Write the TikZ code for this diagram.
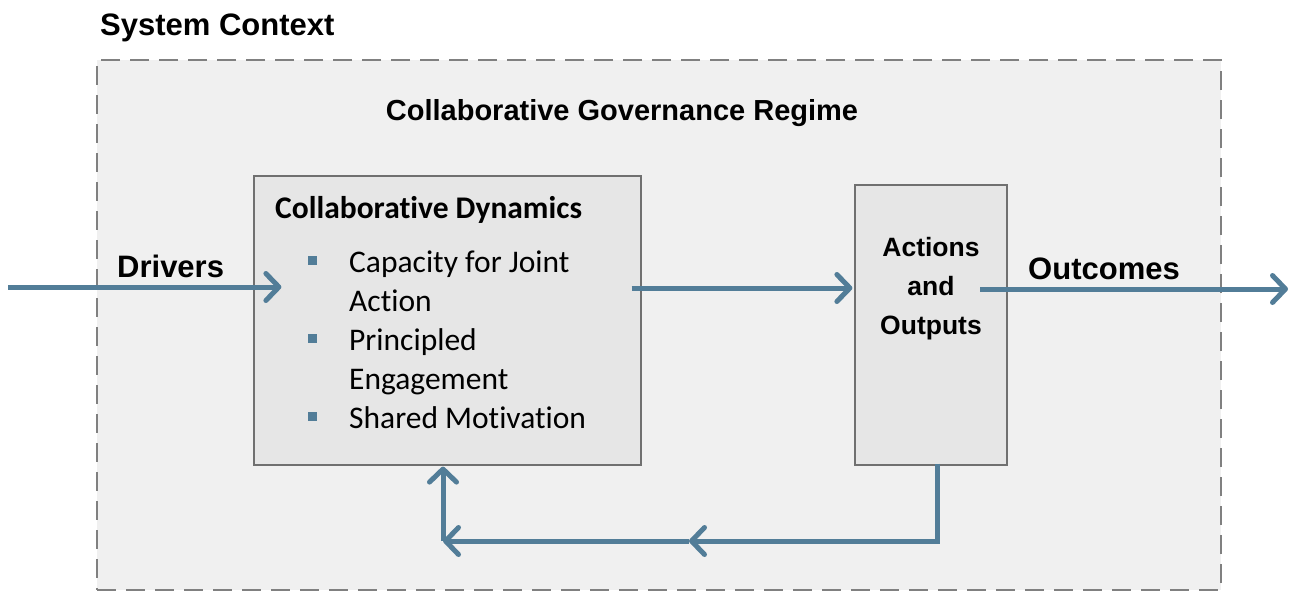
\documentclass[tikz,border=0pt]{standalone}
\usepackage{fontspec}
\setmainfont{Liberation Sans}
\newfontfamily\calibri[Ligatures=NoCommon]{Carlito}
\usetikzlibrary{arrows.meta}
\definecolor{flow}{HTML}{527D98}
\definecolor{regionfill}{HTML}{F0F0F0}
\definecolor{boxfill}{HTML}{E6E6E6}
\definecolor{boxline}{HTML}{707070}
\definecolor{dashline}{HTML}{808080}
\tikzset{
  flowline/.style={draw=flow, line width=5pt, -{Straight Barb[length=13pt,width=27pt,line cap=round,line join=round]}},
  block/.style={draw=boxline, fill=boxfill, line width=1.2pt, inner sep=0pt},
  lbl/.style={inner sep=0pt, anchor=base west},
  bulletsq/.style={fill=flow, inner sep=0pt, minimum size=9pt},
}
\begin{document}
\begin{tikzpicture}[x=1pt,y=1pt]
\useasboundingbox (0,0) rectangle (1291,-592);
\fill[white] (0,0) rectangle (1291,-592);
% system context region
\node[draw=dashline, fill=regionfill, line width=2pt, dash pattern=on 19pt off 10pt, inner sep=0pt,
      minimum width=1124pt, minimum height=530pt] (ctx) at (659,-325) {};
\node[lbl, font=\bfseries\fontsize{31}{37}\selectfont] (ctxlbl) at (100,-35) {System Context};
\node[inner sep=0pt, anchor=base, font=\bfseries\fontsize{29}{35}\selectfont] (regime) at (622,-120) {Collaborative Governance Regime};
% boxes
\node[block, minimum width=387pt, minimum height=289pt] (cd) at (447.5,-320.5) {};
\node[block, minimum width=152pt, minimum height=280pt] (ao) at (931,-325) {};
% dynamics text
\node[lbl, font=\calibri\bfseries\fontsize{31.5}{36}\selectfont] (cdtitle) at (275,-218) {Collaborative Dynamics};
\node[lbl, font=\calibri\fontsize{31.5}{39}\selectfont] (l1) at (349,-272) {Capacity for Joint};
\node[lbl, font=\calibri\fontsize{31.5}{39}\selectfont] (l2) at (349,-311) {Action};
\node[lbl, font=\calibri\fontsize{31.5}{39}\selectfont] (l3) at (349,-350) {Principled};
\node[lbl, font=\calibri\fontsize{31.5}{39}\selectfont] (l4) at (349,-389) {Engagement};
\node[lbl, font=\calibri\fontsize{31.5}{39}\selectfont] (l5) at (349,-428) {Shared Motivation};
\node[bulletsq] (b1) at (312,-260) {};
\node[bulletsq] (b2) at (312,-338) {};
\node[bulletsq] (b3) at (312,-416) {};
% actions text
\node[inner sep=0pt, anchor=base, font=\bfseries\fontsize{26.5}{39}\selectfont] (a1) at (931,-256) {Actions};
\node[inner sep=0pt, anchor=base, font=\bfseries\fontsize{26.5}{39}\selectfont] (a2) at (931,-295) {and};
\node[inner sep=0pt, anchor=base, font=\bfseries\fontsize{26.5}{39}\selectfont] (a3) at (931,-334) {Outputs};
% labels
\node[lbl, font=\bfseries\fontsize{31}{37}\selectfont] (drivers) at (117,-277) {Drivers};
\node[lbl, font=\bfseries\fontsize{31}{37}\selectfont] (outcomes) at (1028,-279) {Outcomes};
% connectors
\coordinate (din) at (8,-287);
\coordinate (dtip) at ([xshift=28pt]cd.west |- din);
\draw[flowline] (din) -- (dtip);
\coordinate (mstart) at ([xshift=-10pt]cd.east |- 0,-288);
\coordinate (mend) at ([xshift=-2pt]ao.west |- mstart);
\draw[flowline] (mstart) -- (mend);
\coordinate (ostart) at (980,-289);
\coordinate (oend) at (1288,-289);
\draw[flowline] (ostart) -- (oend);
% feedback loop
\coordinate (fbstart) at ([yshift=2pt]ao.south -| 937,0);
\coordinate (fbmid) at (689,-541);
\coordinate (fbcorner) at (443,-541);
\coordinate (fbend) at ([yshift=-1pt]cd.south -| fbcorner);
\draw[flowline] (fbstart) |- (fbmid);
\draw[flowline] (fbmid) -- (fbcorner);
\draw[flowline] (fbcorner) -- (fbend);
\end{tikzpicture}
\end{document}
